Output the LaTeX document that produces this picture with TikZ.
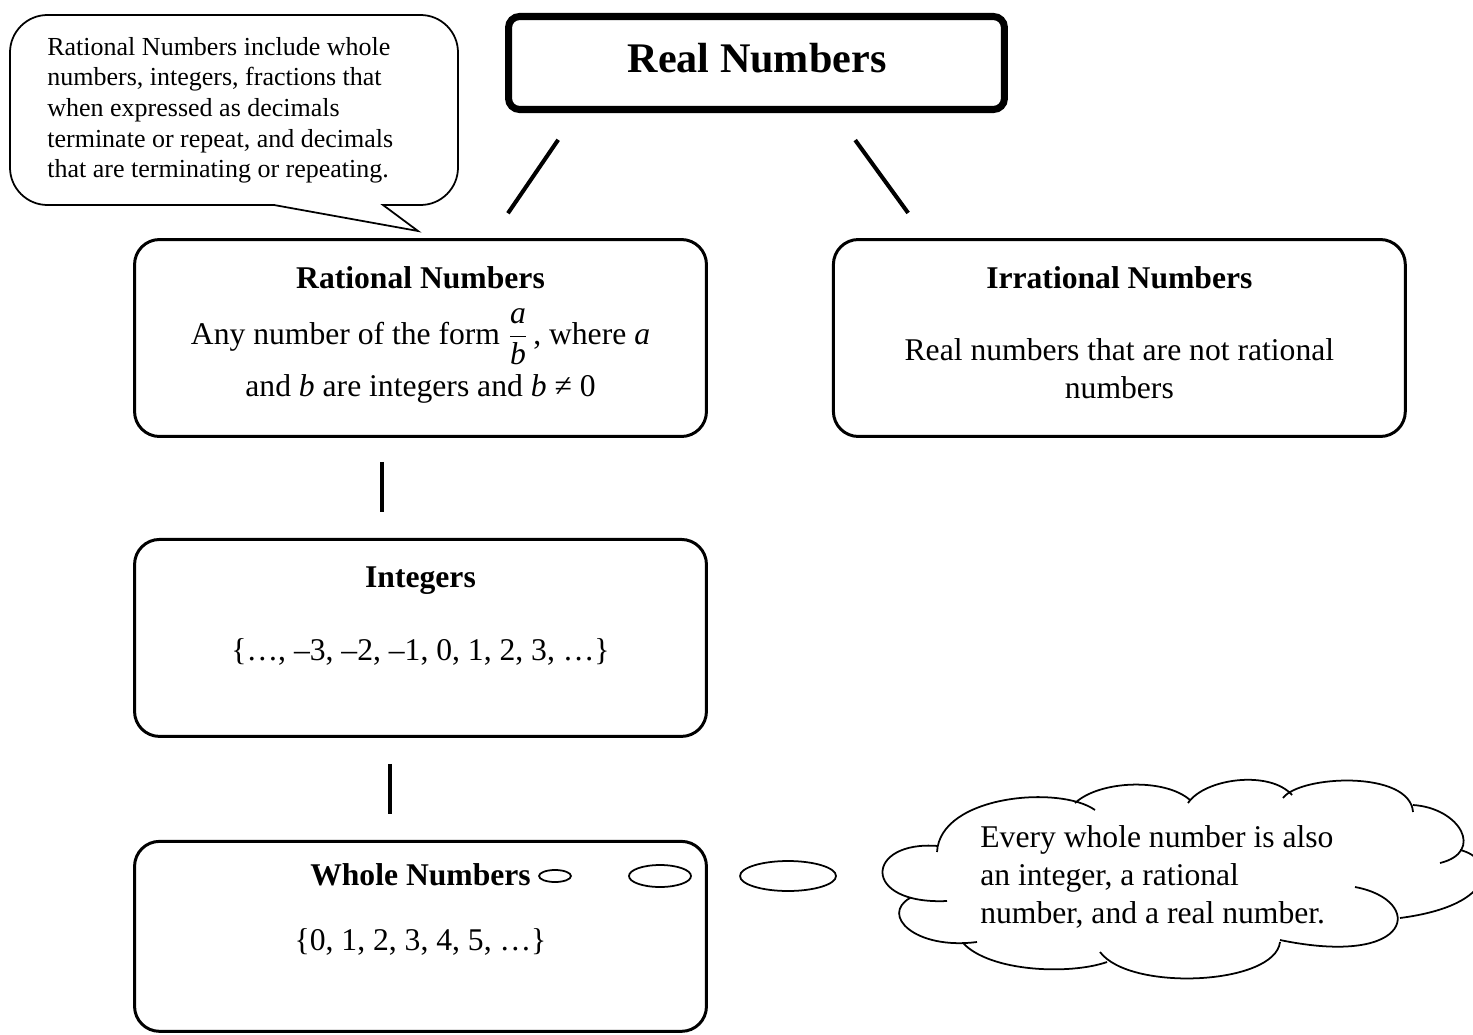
\documentclass[tikz,border=0pt]{standalone}
\usepackage{fontspec}
\setmainfont{Liberation Serif}
\usepackage{tikz}
\usetikzlibrary{
  positioning,
  calc,
  shapes.geometric,
}

\begin{document}
\begin{tikzpicture}[
  x=0.02cm, y=-0.02cm,
  box/.style={
    draw, line width=1.7pt, rounded corners=0.5cm,
    minimum width=11.44cm, minimum height=3.94cm, inner sep=0pt,
  },
  realbox/.style={
    draw, line width=4pt, rounded corners=0.22cm,
    minimum width=9.92cm, minimum height=1.86cm, inner sep=0pt,
  },
  head/.style={font=\fontsize{18}{21.6}\selectfont\bfseries, inner sep=0pt, anchor=base},
  body/.style={font=\fontsize{18}{21.6}\selectfont, inner sep=0pt, anchor=base},
  para/.style={font=\fontsize{18}{21.6}\selectfont, inner sep=0pt, align=center, anchor=north},
  note/.style={font=\fontsize{14.8}{17.4}\selectfont, inner sep=0pt, align=left, anchor=north west},
  link/.style={line width=2.3pt},
  thin/.style={line width=1pt},
  bubble/.style={draw, thin, ellipse, inner sep=0pt},
]

\useasboundingbox (0,0) rectangle (1473,1034);

% ── Boxes ───────────────────────────────────────────────────────────
\node[realbox] (real) at (756.5,63) {};
\node[box] (rat) at (420.5,338) {};
\node[box, right=2.48cm of rat] (irr) {};
\node[box, below=2cm of rat] (intg) {};
\node[box, below=2.04cm of intg, minimum height=3.8cm] (whole) {};

% ── Box texts ───────────────────────────────────────────────────────
\node[head, font=\fontsize{24}{28}\selectfont\bfseries] (realT) at (757,72) {Real Numbers};

\node[head] (ratT) at ($(rat.north)+(0,50)$) {Rational Numbers};
\node[body] (ratA) at ($(rat.north)+(0,106)$)
  {Any number of the form $\displaystyle\frac{\textit{a}}{\textit{b}}$\,, where \textit{a}};
\node[body] (ratB) at ($(rat.north)+(0,158)$)
  {and \textit{b} are integers and \textit{b} ≠ 0};

\node[head] (irrT) at ($(irr.north)+(0,50)$) {Irrational Numbers};
\node[para] (irrB) at ($(irr.north)+(0,100)$)
  {Real numbers that are not rational\\numbers};

\node[head] (intT) at ($(intg.north)+(0,50)$) {Integers};
\node[body] (intB) at ($(intg.north)+(0,123)$) {\{…, –3, –2, –1, 0, 1, 2, 3, …\}};

\node[head] (whT) at ($(whole.north)+(0,46)$) {Whole Numbers};
\node[body] (whB) at ($(whole.north)+(0,111)$) {\{0, 1, 2, 3, 4, 5, …\}};

% ── Connectors ──────────────────────────────────────────────────────
\draw[link, shorten <=0.65cm, shorten >=0.6cm]
  ($(real.south)+(-180,0)$) -- ($(rat.north)+(70.5,0)$);
\draw[link, shorten <=0.67cm, shorten >=0.62cm]
  ($(real.south)+(79,0)$) -- ($(irr.north)+(-193,0)$);
\draw[link, shorten <=0.48cm, shorten >=0.52cm]
  ($(rat.south)+(-38.5,0)$) -- ($(intg.north)+(-38.5,0)$);
\draw[link, shorten <=0.52cm, shorten >=0.52cm]
  ($(intg.south)+(-30.5,0)$) -- ($(whole.north)+(-30.5,0)$);

% ── Speech callout ──────────────────────────────────────────────────
\draw[thin] (10,110) [rounded corners=0.75cm] -- (10,205) -- (200,205)
  [sharp corners] -- (274,205) -- (418,231) -- (383,205) -- (400,205)
  [rounded corners=0.75cm] -- (458,205) -- (458,15) -- (10,15) -- cycle;
\node[note] (callT) at (47,37)
  {Rational Numbers include whole\\numbers, integers, fractions that\\when expressed as decimals\\terminate or repeat, and decimals\\that are terminating or repeating.};

% ── Thought cloud ───────────────────────────────────────────────────
\node[bubble, minimum width=0.64cm, minimum height=0.24cm] (b1) at (555,876) {};
\node[bubble, minimum width=1.24cm, minimum height=0.44cm] (b2) at (660,876) {};
\node[bubble, minimum width=1.92cm, minimum height=0.6cm] (b3) at (788,876) {};
\draw[thin]
  (910,898) .. controls (880,915) and (915,950) .. (977,942)
  (938,846) .. controls (865,840) and (860,905) .. (947,901)
  (937,852) .. controls (940,795) and (1060,785) .. (1095,810)
  (1075,803) .. controls (1100,780) and (1165,778) .. (1190,800)
  (1188,803) .. controls (1205,778) and (1270,770) .. (1292,795)
  (1283,798) .. controls (1300,775) and (1410,770) .. (1413,812)
  (1413,805) .. controls (1460,808) and (1485,852) .. (1440,863)
  (1460,850) .. controls (1495,858) and (1500,905) .. (1400,918)
  (1355,887) .. controls (1425,900) and (1415,968) .. (1280,940)
  (1280,942) .. controls (1275,985) and (1130,992) .. (1100,952)
  (1107,962) .. controls (1070,975) and (990,972) .. (963,943);
\node[note, font=\fontsize{18}{21.6}\selectfont] (cloudT) at (980,825)
  {Every whole number is also\\an integer, a rational\\number, and a real number.};

\end{tikzpicture}
\end{document}
